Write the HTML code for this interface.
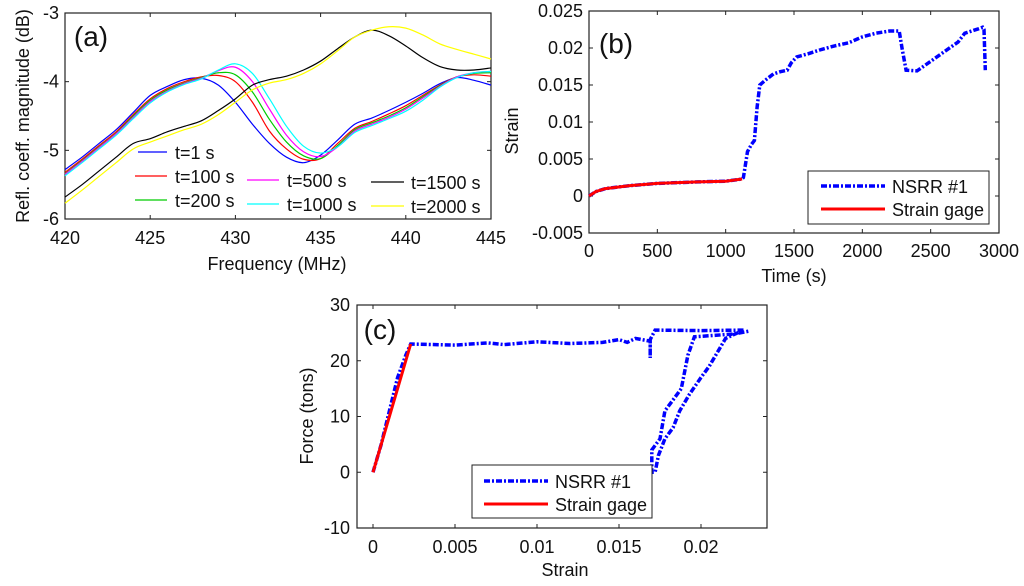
<!DOCTYPE html>
<html><head><meta charset="utf-8"><style>
body{margin:0;background:#fff;}
svg text{font-family:"Liberation Sans",Arial,sans-serif;fill:#111;}
</style></head><body>
<svg id="fig" width="1024" height="581" viewBox="0 0 1024 581">
</svg>
<script>
// ---- Panel (a) data ----
const freqs=[420,421,422,423,424,425,426,427,428,429,430,431,432,433,434,435,436,437,438,439,440,441,442,443,444,445];
const refl_t1=[-5.28,-5.1,-4.9,-4.7,-4.45,-4.2,-4.07,-3.97,-3.95,-4.05,-4.3,-4.62,-4.9,-5.1,-5.18,-5.07,-4.85,-4.62,-4.53,-4.42,-4.3,-4.17,-4.03,-3.94,-3.98,-4.05];
const refl_t100=[-5.32,-5.13,-4.93,-4.73,-4.48,-4.25,-4.1,-4.0,-3.93,-3.91,-4.0,-4.3,-4.72,-4.98,-5.13,-5.12,-4.9,-4.68,-4.58,-4.47,-4.35,-4.2,-4.05,-3.93,-3.9,-3.92];
const refl_t200=[-5.34,-5.15,-4.95,-4.75,-4.5,-4.27,-4.12,-4.02,-3.94,-3.87,-3.9,-4.15,-4.55,-4.88,-5.08,-5.12,-4.93,-4.7,-4.6,-4.5,-4.38,-4.22,-4.06,-3.93,-3.88,-3.87];
const refl_t500=[-5.35,-5.16,-4.96,-4.76,-4.52,-4.29,-4.14,-4.03,-3.95,-3.84,-3.79,-4.0,-4.4,-4.78,-5.02,-5.09,-4.95,-4.72,-4.62,-4.52,-4.4,-4.24,-4.07,-3.93,-3.87,-3.85];
const refl_t1000=[-5.37,-5.18,-4.98,-4.78,-4.54,-4.31,-4.15,-4.04,-3.96,-3.83,-3.74,-3.88,-4.25,-4.65,-4.94,-5.04,-4.95,-4.74,-4.64,-4.54,-4.43,-4.27,-4.08,-3.94,-3.87,-3.85];
const refl_t1500=[-5.68,-5.5,-5.3,-5.1,-4.9,-4.83,-4.73,-4.65,-4.57,-4.42,-4.25,-4.05,-3.97,-3.92,-3.83,-3.7,-3.52,-3.35,-3.25,-3.33,-3.48,-3.65,-3.78,-3.83,-3.83,-3.8];
const refl_t2000=[-5.77,-5.58,-5.38,-5.18,-4.98,-4.88,-4.79,-4.7,-4.62,-4.48,-4.3,-4.12,-4.02,-3.97,-3.88,-3.74,-3.55,-3.35,-3.25,-3.2,-3.22,-3.32,-3.45,-3.53,-3.6,-3.67];
const aXTicks=[420,425,430,435,440,445];
const aYTicks=[-3,-4,-5,-6];
// ---- Panel (b) data ----
const bTime=[0,50,120,300,500,800,1000,1120,1130,1160,1190,1210,1230,1250,1300,1350,1400,1450,1480,1520,1600,1700,1800,1900,2000,2100,2200,2270,2290,2320,2400,2500,2600,2700,2750,2850,2880,2890,2900];
const bNsrr=[0,0.0006,0.001,0.0014,0.0017,0.0019,0.002,0.0023,0.0025,0.006,0.007,0.0075,0.012,0.015,0.0158,0.0165,0.0168,0.017,0.018,0.0188,0.0192,0.0198,0.0203,0.0207,0.0215,0.022,0.0223,0.0223,0.02,0.017,0.0169,0.0182,0.0195,0.0208,0.022,0.0226,0.0228,0.0225,0.017];
const bGageTime=[0,50,120,300,500,800,1000,1120];
const bGage=[0,0.0006,0.001,0.0014,0.0017,0.0019,0.002,0.0023];
const bXTicks=[0,500,1000,1500,2000,2500,3000];
const bYTicks=[0.025,0.02,0.015,0.01,0.005,0,-0.005];
const bYLabels=["0.025","0.02","0.015","0.01","0.005","0","-0.005"];
// ---- Panel (c) data ----
const cStrain=[0,0.0005,0.001,0.0015,0.002,0.0023,0.005,0.007,0.008,0.01,0.012,0.014,0.015,0.0155,0.016,0.0169,0.0169,0.0169,0.0172,0.02,0.0226,0.0215,0.0205,0.02,0.0193,0.0187,0.0183,0.0178,0.0174,0.0172,0.017,0.017,0.0175,0.0178,0.0183,0.0188,0.0192,0.0196,0.022,0.0229];
const cForce=[0,5,11,17,21,23,22.8,23.2,22.9,23.4,23.1,23.3,23.8,23.3,24,23.5,20.5,23.8,25.5,25.4,25.5,24,19,17,14,11,8,6,3,0,0,4,6,11,13,15,21,24.3,24.8,25.3];
const cGageStrain=[0,0.0023];
const cGageForce=[0,23];
const cXTicks=[0,0.005,0.01,0.015,0.02];
const cXLabels=["0","0.005","0.01","0.015","0.02"];
const cYTicks=[30,20,10,0,-10];

const NS="http://www.w3.org/2000/svg";
const svg=document.getElementById('fig');
const FS=18;
function mk(tag,attrs,parent){const e=document.createElementNS(NS,tag);for(const k in attrs)e.setAttribute(k,attrs[k]);(parent||svg).appendChild(e);return e;}
function scale(d0,d1,r0,r1){return v=>r0+(v-d0)*(r1-r0)/(d1-d0);}
function txt(x,y,s,size,anchor,parent,rot){const t=mk('text',{x:x,y:y,'font-size':size,'text-anchor':anchor||'middle'},parent);if(rot)t.setAttribute('transform','rotate(-90 '+x+' '+y+')');t.textContent=s;return t;}
function axesBox(g,x0,y0,x1,y1){const r=mk('rect',{x:x0,y:y0,width:x1-x0,height:y1-y0,fill:'none',stroke:'#222','stroke-width':1.2},g);}
function ptsPath(xs,ys,sx,sy){return xs.map((v,i)=>(i?'L':'M')+sx(v).toFixed(1)+','+sy(ys[i]).toFixed(1)).join('');}
function smoothPath(xs,ys,sx,sy){const P=xs.map((v,i)=>[sx(v),sy(ys[i])]);let d='M'+P[0][0]+','+P[0][1];for(let i=0;i<P.length-1;i++){const p0=P[Math.max(0,i-1)],p1=P[i],p2=P[i+1],p3=P[Math.min(P.length-1,i+2)];d+='C'+(p1[0]+(p2[0]-p0[0])/6)+','+(p1[1]+(p2[1]-p0[1])/6)+' '+(p2[0]-(p3[0]-p1[0])/6)+','+(p2[1]-(p3[1]-p1[1])/6)+' '+p2[0]+','+p2[1];}return d;}

// ===== Panel A =====
(function(){
const g=mk('g',{});


const X0=65,X1=491,Y0=13,Y1=219;
const sx=scale(420,445,X0,X1), sy=scale(-3,-6,Y0,Y1);
axesBox(g,X0,Y0,X1,Y1);
aXTicks.forEach(v=>{mk('line',{x1:sx(v),x2:sx(v),y1:Y1,y2:Y1-4,stroke:'#222'},g);mk('line',{x1:sx(v),x2:sx(v),y1:Y0,y2:Y0+4,stroke:'#222'},g);const t=txt(sx(v),244,String(v),FS,'middle',g);});
aYTicks.forEach(v=>{mk('line',{x1:X0,x2:X0+4,y1:sy(v),y2:sy(v),stroke:'#222'},g);mk('line',{x1:X1,x2:X1-4,y1:sy(v),y2:sy(v),stroke:'#222'},g);const t=txt(59,sy(v)+6,String(v),FS,'end',g);});
const series=[[refl_t1,'#0000ff','t=1 s'],[refl_t100,'#ff0000','t=100 s'],[refl_t200,'#00cc00','t=200 s'],[refl_t500,'#ff00ff','t=500 s'],[refl_t1000,'#00ffff','t=1000 s'],[refl_t1500,'#000000','t=1500 s'],[refl_t2000,'#ffff00','t=2000 s']];
series.forEach(s=>{const p=mk('path',{d:smoothPath(freqs,s[0],sx,sy),fill:'none',stroke:s[1],'stroke-width':1.2},g);});
const leg=[[0,138,167,175,152],[1,135,167,175,176],[2,135,167,175,200],[3,247,279,287,180],[4,247,279,287,204],[5,371,404,411,182],[6,371,404,411,206]];
leg.forEach(l=>{const s=series[l[0]];mk('line',{x1:l[1],x2:l[2],y1:l[4],y2:l[4],stroke:s[1],'stroke-width':1.3},g);const t=txt(l[3],l[4]+7,s[2],FS,'start',g);});
const pl=txt(91,46,'(a)',28,'middle',g);
const xl=txt(277,270,'Frequency (MHz)',FS,'middle',g);
const yl=txt(29,116,'Refl. coeff. magnitude (dB)',FS,'middle',g,true);
})();

// ===== Panel B =====
(function(){
const g=mk('g',{});


const X0=589,X1=999,Y0=11,Y1=233;
const sx=scale(0,3000,X0,X1), sy=scale(0.025,-0.005,Y0,Y1);
axesBox(g,X0,Y0,X1,Y1);
bXTicks.forEach(v=>{mk('line',{x1:sx(v),x2:sx(v),y1:Y1,y2:Y1-4,stroke:'#222'},g);mk('line',{x1:sx(v),x2:sx(v),y1:Y0,y2:Y0+4,stroke:'#222'},g);const t=txt(sx(v),257,String(v),FS,'middle',g);});
bYTicks.forEach((v,i)=>{mk('line',{x1:X0,x2:X0+4,y1:sy(v),y2:sy(v),stroke:'#222'},g);mk('line',{x1:X1,x2:X1-4,y1:sy(v),y2:sy(v),stroke:'#222'},g);const t=txt(583,sy(v)+6,bYLabels[i],FS,'end',g);});
const n=mk('path',{d:ptsPath(bTime,bNsrr,sx,sy),fill:'none',stroke:'#0000ff','stroke-width':3.5,'stroke-dasharray':'6 2 2 2'},g);

const r=mk('path',{d:ptsPath(bGageTime,bGage,sx,sy),fill:'none',stroke:'#ff0000','stroke-width':3},g);

const lb=mk('rect',{x:808,y:171,width:181,height:53,fill:'#fff',stroke:'#222','stroke-width':1},g);

mk('line',{x1:821,x2:885,y1:186,y2:186,stroke:'#0000ff','stroke-width':3.5,'stroke-dasharray':'6 2 2 2'},g);
mk('line',{x1:821,x2:885,y1:209,y2:209,stroke:'#ff0000','stroke-width':3},g);
let t=txt(892,193,'NSRR #1',FS,'start',g);
t=txt(892,216,'Strain gage',FS,'start',g);
t=txt(616,53,'(b)',28,'middle',g);
t=txt(794,282,'Time (s)',FS,'middle',g);
t=txt(518,131,'Strain',FS,'middle',g,true);
})();

// ===== Panel C =====
(function(){
const g=mk('g',{});


const X0=357,X1=767,Y0=305,Y1=528;
const sx=scale(0,0.02,373,701), sy=scale(30,-10,Y0,Y1);
axesBox(g,X0,Y0,X1,Y1);
cXTicks.forEach((v,i)=>{mk('line',{x1:sx(v),x2:sx(v),y1:Y1,y2:Y1-4,stroke:'#222'},g);mk('line',{x1:sx(v),x2:sx(v),y1:Y0,y2:Y0+4,stroke:'#222'},g);const t=txt(sx(v),553,cXLabels[i],FS,'middle',g);});
cYTicks.forEach(v=>{mk('line',{x1:X0,x2:X0+4,y1:sy(v),y2:sy(v),stroke:'#222'},g);mk('line',{x1:X1,x2:X1-4,y1:sy(v),y2:sy(v),stroke:'#222'},g);const t=txt(350,sy(v)+6,String(v),FS,'end',g);});
const n=mk('path',{d:ptsPath(cStrain,cForce,sx,sy),fill:'none',stroke:'#0000ff','stroke-width':3.5,'stroke-dasharray':'6 2 2 2'},g);

const r=mk('path',{d:ptsPath(cGageStrain,cGageForce,sx,sy),fill:'none',stroke:'#ff0000','stroke-width':3},g);

const lb=mk('rect',{x:472,y:465,width:180,height:53,fill:'#fff',stroke:'#222','stroke-width':1},g);

mk('line',{x1:484,x2:548,y1:481,y2:481,stroke:'#0000ff','stroke-width':3.5,'stroke-dasharray':'6 2 2 2'},g);
mk('line',{x1:484,x2:548,y1:504,y2:504,stroke:'#ff0000','stroke-width':3},g);
let t=txt(555,488,'NSRR #1',FS,'start',g);
t=txt(555,511,'Strain gage',FS,'start',g);
t=txt(380,339,'(c)',28,'middle',g);
t=txt(565,576,'Strain',FS,'middle',g);
t=txt(313,416,'Force (tons)',FS,'middle',g,true);
})();
</script>
</body></html>
